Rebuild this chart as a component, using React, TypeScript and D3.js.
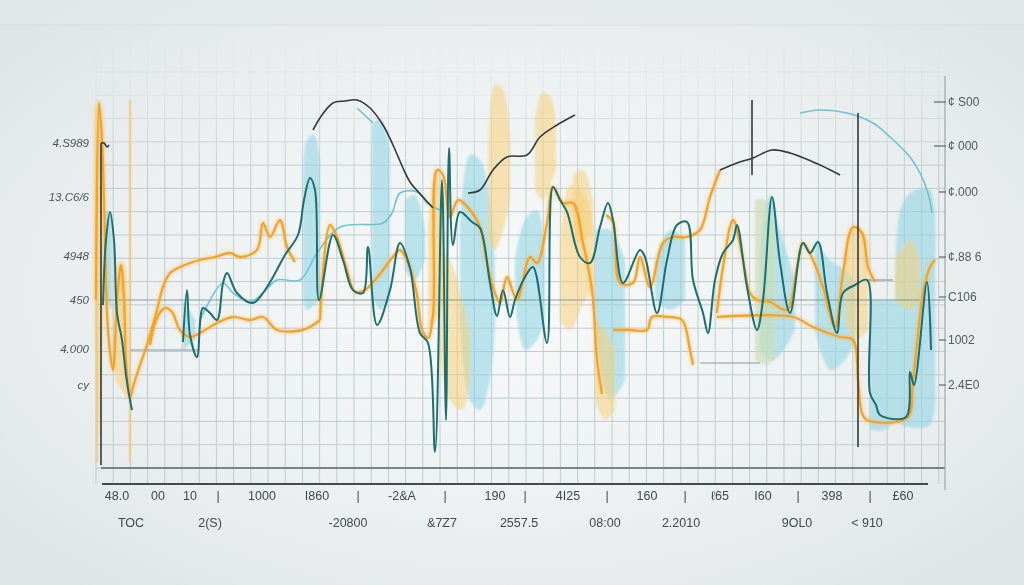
import React from 'react';
import * as d3 from 'd3';

type P = [number, number];
type B = [number, number, number];

// ---- series (x: 0..420, y: 0..210) ----
const tealA: P[] = [[1.5,81.5],[3,114],[5,128],[7,114],[8.5,77.5],[11,64],[13,46.5],[15,34],[16,29]];
const tealB: P[] = [[41.5,63],[43.5,89],[45,66.5],[48.5,55.5],[51.5,80],[55,77.5],[58.5,74],[61.5,92.5],[63.5,97.5],[68.5,87.5],[76.5,82.5],[83.5,90.5],[92.5,106.5],[99,116.5],[102,134],[105,145],[107.5,139],[109.5,84],[116.5,116.5],[121.5,104],[126.5,89],[131.5,87.5],[134,110.5],[138.5,71.5],[145,89],[150,112.5],[155,100],[160,67.5],[164,62.5],[167.5,8],[171,144],[173,24],[174.5,160],[176.5,111.5],[180,128],[186,123],[190,120],[195,92.5],[198.5,76],[201.5,89],[205,75.5],[207.5,84],[212.5,95.5],[216.5,100.5],[223.5,62.5],[226.5,140.5],[230,134],[233.5,128],[240,105.5],[245,102.5],[250,120.5],[254,132.5],[256.5,124],[261.5,92.5],[270,109],[272.5,105.5],[278.5,77.5],[283.5,104],[288.5,121.5],[293.5,123],[296.5,94],[301.5,77.5],[304,67.5],[307.5,94],[311.5,107.5],[316.5,114],[318.5,121.5],[323.5,90.5],[328.5,69],[331.5,84],[336,135.5],[340,103],[345,77.5],[351.5,112.5],[355,107.5],[359,113],[363.5,87.5],[368.5,67.5],[371.5,87.5],[377.5,91.5],[383.5,94],[385,37.5],[388,31.5],[390,26.5],[403,25.5],[405,48],[407,41.5],[413.5,93],[415.5,59]];

const orange1: P[] = [[-2,84],[-0.5,182.5],[1,164],[2,134],[4,69],[6.5,49],[8.5,84],[10.5,101.5],[12,84],[13,54],[15,35],[16.5,40.5],[20,51.5],[23.5,61.5],[28.5,79],[31.5,90.5],[35,97.5],[40,100.5],[45,102.5],[50,104],[57.5,105.5],[65,107.5],[70,105.5],[78.5,109],[81.5,122.5],[85,115.5],[90,124],[93.5,110.5],[97.5,103]];
const orange2: P[] = [[25,61.5],[28.5,75],[32.5,80],[36,78],[40,69],[45,65.5],[50,67.5],[58.5,72.5],[66.5,75.5],[75,74],[81.5,75.5],[88.5,69],[98.5,68.5],[105,70.5],[110,74]];
const orange3: P[] = [[110,74],[115,121.5],[118.5,115.5],[123.5,99],[127.5,88],[132.5,89],[137.5,94],[141.5,99],[146,105],[150,109],[155,100],[158.5,86.5],[161,69],[164,65],[166.5,76.5],[168.5,149],[171.5,146.5],[175,125.5],[179,134],[185,129],[190,120.5],[193.5,102.5],[196.5,90.5],[200,82.5],[203.5,95.5],[208.5,84],[215,105.5],[218.5,102.5],[223.5,122.5],[226.5,140.5],[231.5,132.5],[236.5,132.5],[241.5,112.5],[246,89],[248.5,54],[251,37]];
const orange4: P[] = [[253,126.5],[256.5,123],[260,92.5],[266.5,92.5],[270,105.5],[275,90.5],[281.5,112.5],[286.5,115.5],[293.5,115.5],[300,119],[305,135.5],[310,149]];
const orange5: P[] = [[256.5,69],[265,69],[273.5,69],[276,75.5],[284,75.5],[291,74],[295,59],[296.5,51.5]];
const orange6: P[] = [[308.5,77.5],[311.5,100.5],[316.5,124],[321.5,104],[325,87.5],[328.5,84],[335,83],[343.5,79],[348.5,100.5],[351.5,112.5],[356.5,104],[361.5,90.5],[367.5,70.5],[371.5,97.5],[376.5,120.5],[381,117.5],[384,100.5],[387.5,93]];
const orange7: P[] = [[308.5,75.5],[346.5,75.5],[356.5,70.5],[370,65.5],[376.5,64],[379,44],[381,27.5],[383.5,24],[403.5,25],[406.5,44],[411.5,87.5],[415,100.5],[417.5,104]];

const dark1: P[] = [[0.5,162.5],[2,162.5],[3.5,160.5],[4.5,161.5]];
const dark2: P[] = [[106.5,169],[111,176.5],[116.5,182.5],[122.5,183.5],[128.5,184],[135,180],[141.5,171.5],[146.5,161.5],[151.5,150],[155,143],[161.5,135.5],[166.5,130]];
const dark3: P[] = [[184,137.5],[190,139],[196.5,149],[203.5,155.5],[213.5,156.5],[220,165.5],[228.5,171.5],[237.5,176.5]];
const dark4: P[] = [[310,149],[318.5,152.5],[326.5,155],[336,159],[345,157.5],[360,151.5],[370,146.5]];

const blue1: P[] = [[50,74],[61.5,92.5],[66.5,87.5],[75,83],[81.5,87.5],[88.5,94],[100,94],[108.5,107.5],[120,120.5],[141.5,122.5],[146,127.5],[150,137.5],[158.5,138],[163.5,132.5],[170,129]];
const blue2: P[] = [[128.5,180],[136.5,172.5]];
const blue3: P[] = [[350,177.5],[360,179],[373.5,177.5],[386.5,172.5],[395,165.5],[405,155.5],[410,147.5],[414,137.5],[416,127.5]];

// translucent bands: [x, top, bottom]
const blueBands: B[][] = [
  [[101.5,134,84],[103.5,164,79],[107,166.5,81.5],[110,154,84]],
  [[136,171.5,86.5],[140,175,79],[145,159,84]],
  [[152.5,134,99],[157.5,136.5,94],[162.5,119,104]],
  [[180,119,74],[185,156.5,34],[190,154,29],[195,134,44],[197.5,104,69]],
  [[207.5,104,84],[212.5,124,59],[218.5,129,64],[222.5,109,74]],
  [[247.5,119,74],[255,119,34],[262.5,104,44]],
  [[330,109,59],[335,136.5,54],[340,119,56.5],[347.5,94,69]],
  [[357.5,114,69],[365,104,49],[372.5,99,54],[377.5,94,64]],
  [[397.5,94,24],[401,131.5,21.5],[407.5,139,20],[415,139,21.5],[417.5,104,34]],
  [[385,84,19],[392.5,84,19],[397.5,84,24]],
  [[41.5,84,59],[47.5,74,64]],
  [[2,129,84],[6,126.5,79]],
  [[277.5,104,84],[285,119,79],[292.5,114,84]],
];
const yellowBands: B[][] = [
  [[194,144,114],[197.5,191.5,109],[201.5,189,119],[205,164,134]],
  [[217.5,174,139],[221.5,188,134],[226,184,144],[228,159,149]],
  [[170,109,54],[175,104,34],[181,84,29],[185,69,44]],
  [[230,109,74],[235,141.5,69],[242.5,136.5,84],[247.5,114,89]],
  [[247.5,74,34],[252.5,69,24],[257.5,59,29]],
  [[372.5,104,74],[377.5,121.5,64],[384,114,69]],
  [[-3,179,84],[-0.5,184,14],[2,159,84]],
  [[164,119,69],[168,149,74],[172.5,134,84]],
  [[397.5,104,84],[405,114,79],[410,104,84]],
  [[236.5,146.5,111.5],[241.5,149,114],[246.5,134,116.5]],
  [[7.5,99,44],[11,104,39],[14,84,34]],
];
const greenBands: B[][] = [
  [[327.5,134,54],[332.5,134,51.5],[337.5,119,54]],
];

const darkVerticals: [number, number, number][] = [[0.5,1.5,162.5],[326,146.5,184],[379,10.5,177.5]];
const paleVerticals: [number, number, number][] = [[15,3,184],[-1.5,3,84]];
const hLines: [number, number, number][] = [[84,0,422.5],[59,15,50],[94,383.5,396.5],[52.5,300,330]];

const leftTickValues = [162.5, 135.5, 106, 84, 59.5, 41.5];
const leftTickLabels = ['4.S989', '13.C6/6', '4948', '450', '4.000', 'cy'];
const rightTickValues = [183, 161, 138, 105.5, 85.5, 64, 41.5];
const rightTickLabels = ['¢ S00', '¢ 000', '¢.000', '¢.88 6', 'C106', '1002', '2.4E0'];
const row1Pos = [8.5, 29, 45, 59, 81, 108.5, 129, 151, 172.5, 197.5, 212.5, 234, 253.5, 273.5, 292.5, 310, 331.5, 349, 366, 385, 401.5];
const row1Labels = ['48.0', '00', '10', '|', '1000', 'I860', '|', '-2&A', '|', '190', '|', '4I25', '|', '160', '|', 'ℓ65', 'I60', '|', '398', '|', '£60'];
const row2Pos = [15.5, 55, 124, 171, 209.5, 252.5, 290.5, 348.5, 383.5];
const row2Labels = ['TOC', '2(S)', '-20800', '&7Z7', '2557.5', '08:00', '2.2010', '9OL0', '< 910'];

export default function App() {
  const W = 1024, H = 585;
  const x = d3.scaleLinear().domain([0, 420]).range([100, 940]);
  const y = d3.scaleLinear().domain([0, 210]).range([468, 48]);
  const line = d3.line<P>().x(d => x(d[0])).y(d => y(d[1])).curve(d3.curveCatmullRom.alpha(0.5));
  const area = d3.area<B>().x(d => x(d[0])).y0(d => y(d[2])).y1(d => y(d[1])).curve(d3.curveCatmullRom.alpha(0.5));
  const axisY = y(-8);
  const gridX = d3.range(-2, 423, 8.6);
  const gridY = d3.range(0, 200, 11.65);

  const tealSeries = [tealA, tealB];
  const orangeSeries = [orange1, orange2, orange3, orange4, orange5, orange6, orange7];
  const darkSeries = [dark1, dark2, dark3, dark4];
  const blueSeries = [blue1, blue2, blue3];

  return (
    <svg width={W} height={H} style={{ position: 'absolute', left: 0, top: 0 }} fontFamily="'Liberation Sans', Arial, sans-serif">
      <defs>
        <radialGradient id="bg" cx="50%" cy="50%" r="65%">
          <stop offset="0%" stopColor="#f8fafa" />
          <stop offset="55%" stopColor="#eef1f1" />
          <stop offset="100%" stopColor="#dfe5e5" />
        </radialGradient>
        <linearGradient id="fadeG" x1="0" y1="0" x2="0" y2="1">
          <stop offset="0" stopColor="#fff" stopOpacity="0" />
          <stop offset="0.12" stopColor="#fff" stopOpacity="0.25" />
          <stop offset="0.3" stopColor="#fff" stopOpacity="1" />
          <stop offset="1" stopColor="#fff" stopOpacity="1" />
        </linearGradient>
        <mask id="fade" maskUnits="userSpaceOnUse" x="0" y="0" width={W} height={H}>
          <rect x="0" y="40" width={W} height="450" fill="url(#fadeG)" />
        </mask>
        <filter id="soft" x="-20%" y="-20%" width="140%" height="140%">
          <feGaussianBlur stdDeviation="1.3" />
        </filter>
        <filter id="glow" x="-10%" y="-10%" width="120%" height="120%">
          <feGaussianBlur stdDeviation="1.6" />
        </filter>
      </defs>
      <rect width={W} height={H} fill="url(#bg)" />
      <rect width={W} height={25} fill="#e4e9e9" opacity={0.6} />
      <line x1={0} x2={W} y1={25} y2={25} stroke="#d6dddd" strokeWidth={1} />

      <g mask="url(#fade)">
        {gridX.map((v, i) => (
          <line key={'gx' + i} x1={x(v)} x2={x(v)} y1={40} y2={axisY} stroke="#bfcccf" strokeWidth={1} />
        ))}
        {gridY.map((v, i) => (
          <line key={'gy' + i} x1={x(-2)} x2={x(422.5)} y1={y(v)} y2={y(v)} stroke="#bfcccf" strokeWidth={1} />
        ))}
      </g>

      <g filter="url(#soft)">
        {blueBands.map((b, i) => <path key={'bb' + i} d={area(b) || ''} fill="#92d5e5" opacity={0.6} />)}
        {yellowBands.map((b, i) => <path key={'yb' + i} d={area(b) || ''} fill="#f6cf78" opacity={0.55} />)}
        {greenBands.map((b, i) => <path key={'gb' + i} d={area(b) || ''} fill="#c9dcb3" opacity={0.65} />)}
      </g>

      {paleVerticals.map((v, i) => (
        <line key={'pv' + i} x1={x(v[0])} x2={x(v[0])} y1={y(v[1])} y2={y(v[2])} stroke="#f3c77a" strokeWidth={2.5} opacity={0.7} />
      ))}
      {hLines.map((h, i) => (
        <line key={'hl' + i} x1={x(h[1])} x2={x(h[2])} y1={y(h[0])} y2={y(h[0])} stroke="#6f8589" strokeWidth={1.2} opacity={0.8} />
      ))}
      <line x1={x(0.5)} x2={x(422.5)} y1={y(0)} y2={y(0)} stroke="#55676b" strokeWidth={1.4} />

      {blueSeries.map((s, i) => <path key={'bl' + i} d={line(s) || ''} fill="none" stroke="#6cc3d6" strokeWidth={1.6} />)}
      {orangeSeries.map((s, i) => <path key={'og' + i} d={line(s) || ''} fill="none" stroke="#f7b243" strokeWidth={5} opacity={0.3} filter="url(#glow)" />)}
      {orangeSeries.map((s, i) => <path key={'o' + i} d={line(s) || ''} fill="none" stroke="#f3a428" strokeWidth={2.3} strokeLinejoin="round" />)}
      {tealSeries.map((s, i) => <path key={'t' + i} d={line(s) || ''} fill="none" stroke="#1c6e70" strokeWidth={2} strokeLinejoin="round" />)}
      {darkSeries.map((s, i) => <path key={'d' + i} d={line(s) || ''} fill="none" stroke="#2f3a3d" strokeWidth={1.6} />)}
      {darkVerticals.map((v, i) => (
        <line key={'dv' + i} x1={x(v[0])} x2={x(v[0])} y1={y(v[1])} y2={y(v[2])} stroke="#2f3a3d" strokeWidth={1.6} />
      ))}

      {/* axes */}
      <line x1={x(1)} x2={x(414)} y1={axisY} y2={axisY} stroke="#3f4b4f" strokeWidth={2} />
      <line x1={x(422.5)} x2={x(422.5)} y1={y(196)} y2={axisY + 6} stroke="#9aa8ab" strokeWidth={1.2} />

      {leftTickValues.map((v, i) => (
        <text key={'lt' + i} x={89} y={y(v) + 4} textAnchor="end" fontSize={11.5} fontStyle="italic" fill="#4a565b">{leftTickLabels[i]}</text>
      ))}
      {rightTickValues.map((v, i) => (
        <g key={'rt' + i}>
          <line x1={i < 2 ? 934 : 939} x2={946} y1={y(v)} y2={y(v)} stroke="#5c686c" strokeWidth={1.2} />
          <text x={948} y={y(v) + 4} fontSize={12} fill="#4f5b60">{rightTickLabels[i]}</text>
        </g>
      ))}
      {row1Pos.map((v, i) => (
        <text key={'r1' + i} x={x(v)} y={axisY + 16} textAnchor="middle" fontSize={12.5} fill="#3f4a4e">{row1Labels[i]}</text>
      ))}
      {row2Pos.map((v, i) => (
        <text key={'r2' + i} x={x(v)} y={axisY + 43} textAnchor="middle" fontSize={12.5} fill="#3f4a4e">{row2Labels[i]}</text>
      ))}
    </svg>
  );
}
